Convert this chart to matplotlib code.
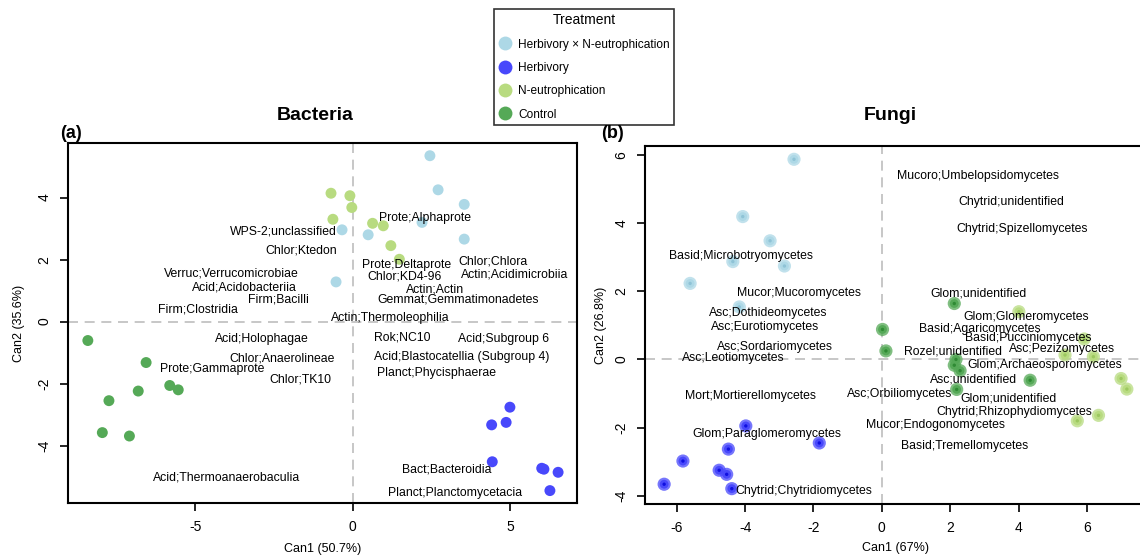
import matplotlib.pyplot as plt
from matplotlib.lines import Line2D

plt.rcParams['font.family'] = ['Liberation Sans', 'DejaVu Sans']
plt.rcParams['axes.unicode_minus'] = False

treatments = ["Herbivory \u00d7 N-eutrophication", "Herbivory", "N-eutrophication", "Control"]
colors = ["#add8e6", "#4848fb", "#b8db80", "#55a957"]
dot_colors = ["#8fc3d6", "#1010e0", "#9cc860", "#2f8a34"]

# Bacteria: canonical scores per treatment
bac_hn_x = [2.45, 2.71, 3.54, 2.20, 3.54, 0.49, -0.34, -0.53]
bac_hn_y = [5.35, 4.25, 3.78, 3.20, 2.66, 2.80, 2.96, 1.28]
bac_h_x = [4.99, 4.41, 4.87, 4.43, 6.00, 6.07, 6.52, 6.26]
bac_h_y = [-2.76, -3.33, -3.25, -4.52, -4.73, -4.76, -4.86, -5.45]
bac_n_x = [-0.69, -0.09, -0.03, -0.63, 0.63, 0.97, 1.21, 1.48]
bac_n_y = [4.14, 4.06, 3.68, 3.30, 3.17, 3.09, 2.45, 2.01]
bac_c_x = [-8.41, -6.56, -5.81, -5.54, -6.81, -7.74, -7.95, -7.09]
bac_c_y = [-0.61, -1.32, -2.06, -2.20, -2.24, -2.55, -3.58, -3.69]

bac_taxa = ["WPS-2;unclassified", "Chlor;Ktedon", "Verruc;Verrucomicrobiae", "Acid;Acidobacteriia",
            "Firm;Bacilli", "Firm;Clostridia", "Prote;Alphaprote", "Prote;Deltaprote",
            "Chlor;Chlora", "Chlor;KD4-96", "Actin;Acidimicrobiia", "Actin;Actin",
            "Gemmat;Gemmatimonadetes", "Actin;Thermoleophilia", "Rok;NC10", "Acid;Subgroup 6",
            "Acid;Blastocatellia (Subgroup 4)", "Planct;Phycisphaerae", "Bact;Bacteroidia",
            "Planct;Planctomycetacia", "Acid;Holophagae", "Chlor;Anaerolineae",
            "Prote;Gammaprote", "Chlor;TK10", "Acid;Thermoanaerobaculia"]
bac_taxa_x = [-2.20, -1.64, -3.86, -3.44, -2.37, -4.93, 2.30, 1.71, 4.45, 1.63, 5.13, 2.60,
              3.34, 1.19, 1.57, 4.80, 3.47, 2.65, 3.00, 3.26, -2.88, -2.23, -4.45, -1.67, -4.02]
bac_taxa_y = [2.90, 2.29, 1.54, 1.10, 0.72, 0.38, 3.35, 1.83, 1.94, 1.45, 1.51, 1.02,
              0.72, 0.13, -0.52, -0.57, -1.13, -1.65, -4.78, -5.52, -0.57, -1.20, -1.53, -1.86, -5.02]

# Fungi: canonical scores per treatment
fun_hn_x = [-2.57, -4.07, -3.27, -4.36, -2.85, -5.61, -4.17]
fun_hn_y = [5.87, 4.19, 3.48, 2.87, 2.74, 2.23, 1.54]
fun_h_x = [-3.98, -1.83, -4.49, -5.82, -4.76, -4.54, -6.37, -4.39]
fun_h_y = [-1.95, -2.45, -2.63, -2.98, -3.25, -3.37, -3.66, -3.79]
fun_n_x = [4.01, 5.92, 5.36, 6.19, 7.00, 7.17, 6.34, 5.72]
fun_n_y = [1.40, 0.60, 0.13, 0.08, -0.56, -0.87, -1.64, -1.80]
fun_c_x = [2.12, 0.02, 0.12, 2.17, 2.12, 2.29, 4.34, 2.19]
fun_c_y = [1.64, 0.88, 0.25, 0.00, -0.17, -0.33, -0.61, -0.88]

fun_taxa = ["Basid;Microbotryomycetes", "Mucor;Mucoromycetes", "Asc;Dothideomycetes",
            "Asc;Eurotiomycetes", "Asc;Sordariomycetes", "Asc;Leotiomycetes",
            "Mort;Mortierellomycetes", "Glom;Paraglomeromycetes", "Chytrid;Chytridiomycetes",
            "Mucoro;Umbelopsidomycetes", "Chytrid;unidentified", "Chytrid;Spizellomycetes",
            "Glom;unidentified", "Glom;Glomeromycetes", "Basid;Agaricomycetes",
            "Basid;Pucciniomycetes", "Asc;Pezizomycetes", "Rozel;unidentified",
            "Glom;Archaeosporomycetes", "Asc;unidentified", "Asc;Orbiliomycetes",
            "Glom;unidentified", "Chytrid;Rhizophydiomycetes", "Mucor;Endogonomycetes",
            "Basid;Tremellomycetes"]
fun_taxa_x = [-4.13, -2.43, -3.33, -3.42, -3.13, -4.36, -3.84, -3.36, -2.29, 2.81, 3.79, 4.10,
              2.83, 4.22, 2.88, 4.27, 5.28, 2.07, 4.77, 2.69, 0.53, 3.70, 3.88, 1.57, 2.41]
fun_taxa_y = [3.04, 1.94, 1.35, 0.96, 0.37, 0.05, -1.07, -2.20, -3.86, 5.38, 4.61, 3.82,
              1.94, 1.23, 0.89, 0.62, 0.32, 0.24, -0.17, -0.58, -1.00, -1.15, -1.54, -1.91, -2.55]


def style_axes(ax):
    for s in ax.spines.values():
        s.set_linewidth(1.5)
    ax.tick_params(length=6, width=1.2, pad=6, labelsize=10)
    for lab in ax.get_yticklabels():
        lab.set_rotation(90)
        lab.set_va('center')
    ax.axhline(0, color='#bdbdbd', lw=1.2, ls=(0, (6, 4)), zorder=0)
    ax.axvline(0, color='#bdbdbd', lw=1.2, ls=(0, (6, 4)), zorder=0)


fig = plt.figure(figsize=(11.4, 5.6), dpi=100)

# Bacteria
ax1 = fig.add_axes([68 / 1140, 1 - 503 / 560, 509 / 1140, 360 / 560])
ax1.set_xlim(-9.04, 7.12)
ax1.set_ylim(-5.85, 5.76)
ax1.set_xticks([-5, 0, 5])
ax1.set_yticks([-4, -2, 0, 2, 4])
style_axes(ax1)
groups = [(bac_hn_x, bac_hn_y), (bac_h_x, bac_h_y), (bac_n_x, bac_n_y), (bac_c_x, bac_c_y)]
for (gx, gy), c in zip(groups, colors):
    ax1.scatter(gx, gy, s=62, color=c, edgecolors='none', zorder=2)
for t, x, y in zip(bac_taxa, bac_taxa_x, bac_taxa_y):
    ax1.text(x, y, t, ha='center', va='center', fontsize=8.8, zorder=3)
ax1.set_xlabel("Can1 (50.7%)", fontsize=9, labelpad=7)
ax1.set_ylabel("Can2 (35.6%)", fontsize=9, labelpad=9)

# Fungi
ax2 = fig.add_axes([645 / 1140, 1 - 504 / 560, 501 / 1140, 358 / 560])
ax2.set_xlim(-6.93, 7.73)
ax2.set_ylim(-4.24, 6.26)
ax2.set_xticks([-6, -4, -2, 0, 2, 4, 6])
ax2.set_yticks([-4, -2, 0, 2, 4, 6])
style_axes(ax2)
groups = [(fun_hn_x, fun_hn_y), (fun_h_x, fun_h_y), (fun_n_x, fun_n_y), (fun_c_x, fun_c_y)]
for (gx, gy), c, dc in zip(groups, colors, dot_colors):
    ax2.scatter(gx, gy, s=90, color=c, alpha=0.75, edgecolors='none', zorder=2)
    ax2.scatter(gx, gy, s=40, color=c, edgecolors='none', zorder=2)
    ax2.scatter(gx, gy, s=6, color=dc, edgecolors='none', zorder=2)
for t, x, y in zip(fun_taxa, fun_taxa_x, fun_taxa_y):
    ax2.text(x, y, t, ha='center', va='center', fontsize=8.8, zorder=3)
ax2.set_xlabel("Can1 (67%)", fontsize=9, labelpad=5)
ax2.set_ylabel("Can2 (26.8%)", fontsize=9, labelpad=5)

fig.text(315 / 1140, 1 - 116 / 560, "Bacteria", fontsize=14, fontweight='bold', ha='center', va='center')
fig.text(890 / 1140, 1 - 116 / 560, "Fungi", fontsize=14, fontweight='bold', ha='center', va='center')
fig.text(71 / 1140, 1 - 134 / 560, "(a)", fontsize=13, fontweight='bold', ha='center', va='center')
fig.text(612 / 1140, 1 - 134 / 560, "(b)", fontsize=13, fontweight='bold', ha='center', va='center')

handles = [Line2D([], [], marker='o', ls='', markersize=10, markerfacecolor=c, markeredgecolor='none')
           for c in colors]
leg = fig.legend(handles, treatments, title="Treatment", loc='upper left',
                 bbox_to_anchor=(494 / 1140, 1 - 9 / 560), fontsize=8.6, title_fontsize=10,
                 frameon=True, fancybox=False, edgecolor='black', labelspacing=0.95,
                 handletextpad=0.6, handlelength=1.1, borderpad=0.35, borderaxespad=0)
leg.get_frame().set_linewidth(1.2)

fig.savefig("out.png", dpi=100)
